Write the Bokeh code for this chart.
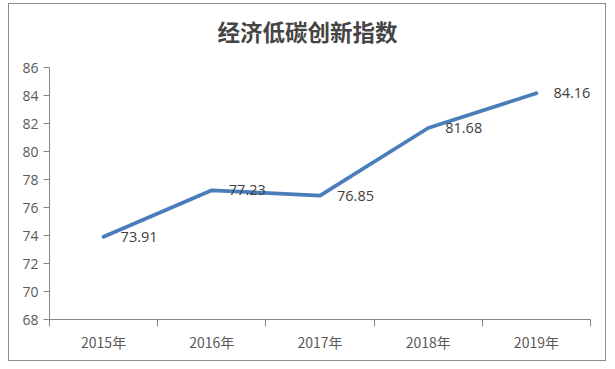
from bokeh.plotting import figure
from bokeh.models import FixedTicker, Range1d, ColumnDataSource, Title
from bokeh.embed import file_html
from bokeh.resources import INLINE
from bokeh.core.properties import value

title_text = "经济低碳创新指数"
years = ["2015年", "2016年", "2017年", "2018年", "2019年"]
index_values = [73.91, 77.23, 76.85, 81.68, 84.16]
y_ticks = [68, 70, 72, 74, 76, 78, 80, 82, 84, 86]

xs = [i + 0.5 for i in range(len(years))]
src = ColumnDataSource(dict(x=xs, y=index_values,
                            lab=["%.2f" % v for v in index_values]))

p = figure(width=598, height=358, output_backend="svg", toolbar_location=None,
           x_range=Range1d(0, len(years)), y_range=Range1d(68, 86),
           min_border_left=40, min_border_right=17, min_border_top=63,
           min_border_bottom=43, title_location=None)
p.styles = {"border": "1px solid #8c8c8c", "margin-left": "8px", "margin-top": "3px"}
p.outline_line_color = None
p.background_fill_color = "white"
p.border_fill_color = "white"
p.xgrid.grid_line_color = None
p.ygrid.grid_line_color = None

# spacer between the frame and the title
spacer = Title(text=" ", text_font_size="1px", standoff=13)
p.add_layout(spacer, "above")
main_title = Title(text=title_text, align="left", offset=168, standoff=10,
                   vertical_align="bottom", text_font="Noto Sans CJK SC",
                   text_font_size="22.5px", text_font_style="bold",
                   text_color="#454545")
p.add_layout(main_title, "above")

axis_color = "#868686"

p.xaxis.ticker = FixedTicker(ticks=xs, minor_ticks=list(range(len(years) + 1)))
p.xaxis.major_label_overrides = {x: y for x, y in zip(xs, years)}
p.xaxis.axis_line_color = axis_color
p.xaxis.major_tick_line_color = None
p.xaxis.major_tick_out = 0
p.xaxis.major_tick_in = 0
p.xaxis.minor_tick_line_color = axis_color
p.xaxis.minor_tick_out = 7
p.xaxis.minor_tick_in = 0
p.xaxis.major_label_text_font = "Noto Sans CJK SC"
p.xaxis.major_label_text_font_size = "14px"
p.xaxis.major_label_text_color = "#595959"
p.xaxis.major_label_standoff = 5

p.yaxis.ticker = FixedTicker(ticks=y_ticks)
p.yaxis.axis_line_color = axis_color
p.yaxis.major_tick_line_color = axis_color
p.yaxis.major_tick_out = 6
p.yaxis.major_tick_in = 0
p.yaxis.minor_tick_line_color = None
p.yaxis.major_label_text_font = "Open Sans"
p.yaxis.major_label_text_font_size = "14px"
p.yaxis.major_label_text_color = "#595959"
p.yaxis.major_label_standoff = 5

p.line("x", "y", source=src, line_color="#4A7EBB", line_width=3.75,
       line_join="round", line_cap="round")
p.text("x", "y", text="lab", source=src, x_offset=17, text_baseline="middle",
       text_align="left", text_font=value("Open Sans"), text_font_size="14.5px",
       text_color="#404040")

open("out.html", "w").write(file_html(p, INLINE))
